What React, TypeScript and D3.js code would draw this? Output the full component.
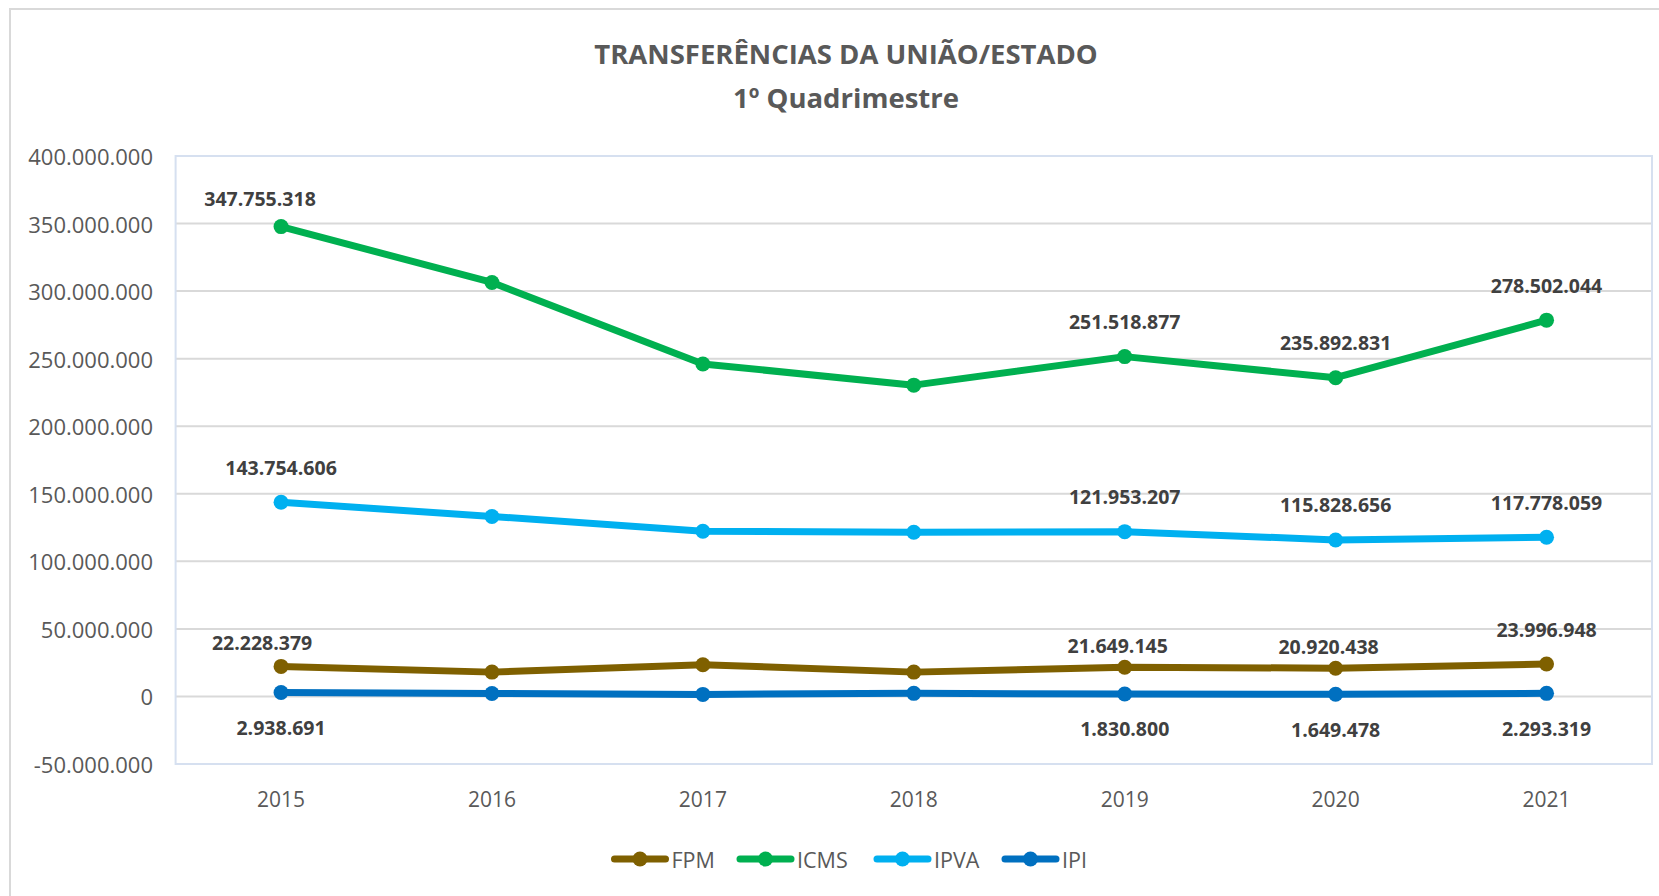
import React from "react";
import * as d3 from "d3";

const years = ["2015", "2016", "2017", "2018", "2019", "2020", "2021"];
const seriesNames = ["FPM", "ICMS", "IPVA", "IPI"];
const fpm = [22228379, 18000000, 23500000, 18000000, 21649145, 20920438, 23996948];
const icms = [347755318, 306400000, 246100000, 230400000, 251518877, 235892831, 278502044];
const ipva = [143754606, 133200000, 122300000, 121500000, 121953207, 115828656, 117778059];
const ipi = [2938691, 2200000, 1500000, 2300000, 1830800, 1649478, 2293319];
const yTicks = [-50000000, 0, 50000000, 100000000, 150000000, 200000000, 250000000, 300000000, 350000000, 400000000];
// which points carry a value label
const labelledYears = ["2015", "2019", "2020", "2021"];

const colors: Record<string, string> = {
  FPM: "#7f6000",
  ICMS: "#00b050",
  IPVA: "#00b0f0",
  IPI: "#0070c0",
};

// small manual nudges, like excel lets you drag labels around
const nudges: Record<string, [number, number]> = {
  "ICMS-2015": [-21, 7],
  "FPM-2015": [-19, 11],
  "FPM-2019": [-7, 13],
  "FPM-2020": [-7, 13],
};

const W = 1659;
const H = 896;
const font = "'Open Sans', 'DejaVu Sans', sans-serif";
const fmt = (v: number) => (v < 0 ? "-" : "") + d3.format(",")(Math.abs(v)).replace(/,/g, ".");

export default function App() {
  const left = 175.6;
  const right = 1652;
  const top = 156;
  const bottom = 764;

  const x = d3.scaleBand<string>().domain(years).range([left, right]).padding(0);
  const y = d3.scaleLinear().domain([-50000000, 400000000]).range([bottom, top]);
  const cx = (yr: string) => (x(yr) as number) + x.bandwidth() / 2;

  const data: Record<string, number[]> = { FPM: fpm, ICMS: icms, IPVA: ipva, IPI: ipi };
  const line = d3
    .line<number>()
    .x((_, i) => cx(years[i]))
    .y((d) => y(d));

  const legendStart = [611.5, 737, 874, 1002];
  const drawOrder = ["IPI", "FPM", "IPVA", "ICMS"];

  return (
    <svg
      width={W}
      height={H}
      style={{ position: "absolute", left: 0, top: 0, background: "#fff" }}
      fontFamily={font}
    >
      <rect x={10} y={9} width={1700} height={1000} fill="#fff" stroke="#d9d9d9" strokeWidth={2} />

      <text x={846} y={53} textAnchor="middle" dominantBaseline="central" fontSize={27.5} fontWeight={700} fill="#595959">
        TRANSFERÊNCIAS DA UNIÃO/ESTADO
      </text>
      <text x={846} y={97} textAnchor="middle" dominantBaseline="central" fontSize={27.5} fontWeight={700} fill="#595959">
        1º Quadrimestre
      </text>

      {/* gridlines */}
      {yTicks.map((t) => (
        <line key={t} x1={left} x2={right} y1={y(t)} y2={y(t)} stroke="#d9d9d9" strokeWidth={2} />
      ))}
      <rect x={left} y={top} width={right - left} height={bottom - top} fill="none" stroke="#d6e0f0" strokeWidth={2} />

      {/* y axis labels */}
      {yTicks.map((t) => (
        <text key={t} x={153} y={y(t)} textAnchor="end" dominantBaseline="central" fontSize={22} fill="#595959">
          {fmt(t)}
        </text>
      ))}

      {/* x axis labels */}
      {years.map((yr) => (
        <text key={yr} x={cx(yr)} y={799} textAnchor="middle" dominantBaseline="central" fontSize={21} fill="#595959">
          {yr}
        </text>
      ))}

      {drawOrder.map((name) => (
        <g key={name}>
          <path
            d={line(data[name]) as string}
            fill="none"
            stroke={colors[name]}
            strokeWidth={7}
            strokeLinejoin="round"
            strokeLinecap="round"
          />
          {data[name].map((v, i) => (
            <circle key={i} cx={cx(years[i])} cy={y(v)} r={7.5} fill={colors[name]} />
          ))}
        </g>
      ))}

      {/* value labels */}
      {seriesNames.map((name) =>
        years.map((yr, i) => {
          if (!labelledYears.includes(yr)) return null;
          const v = data[name][i];
          const n = nudges[`${name}-${yr}`] || [0, 0];
          const dy = name === "IPI" ? 35 : -35;
          return (
            <text
              key={name + yr}
              x={cx(yr) + n[0]}
              y={y(v) + dy + n[1]}
              textAnchor="middle"
              dominantBaseline="central"
              fontSize={19.5}
              fontWeight={700}
              fill="#404040"
            >
              {fmt(v)}
            </text>
          );
        })
      )}

      {/* legend */}
      {seriesNames.map((name, i) => {
        const lx = legendStart[i];
        const ly = 859;
        return (
          <g key={name}>
            <line x1={lx + 3} x2={lx + 54} y1={ly} y2={ly} stroke={colors[name]} strokeWidth={7} strokeLinecap="round" />
            <circle cx={lx + 28.5} cy={ly} r={7.5} fill={colors[name]} />
            <text x={lx + 60} y={ly} dominantBaseline="central" fontSize={21.5} fill="#595959">
              {name}
            </text>
          </g>
        );
      })}
    </svg>
  );
}
